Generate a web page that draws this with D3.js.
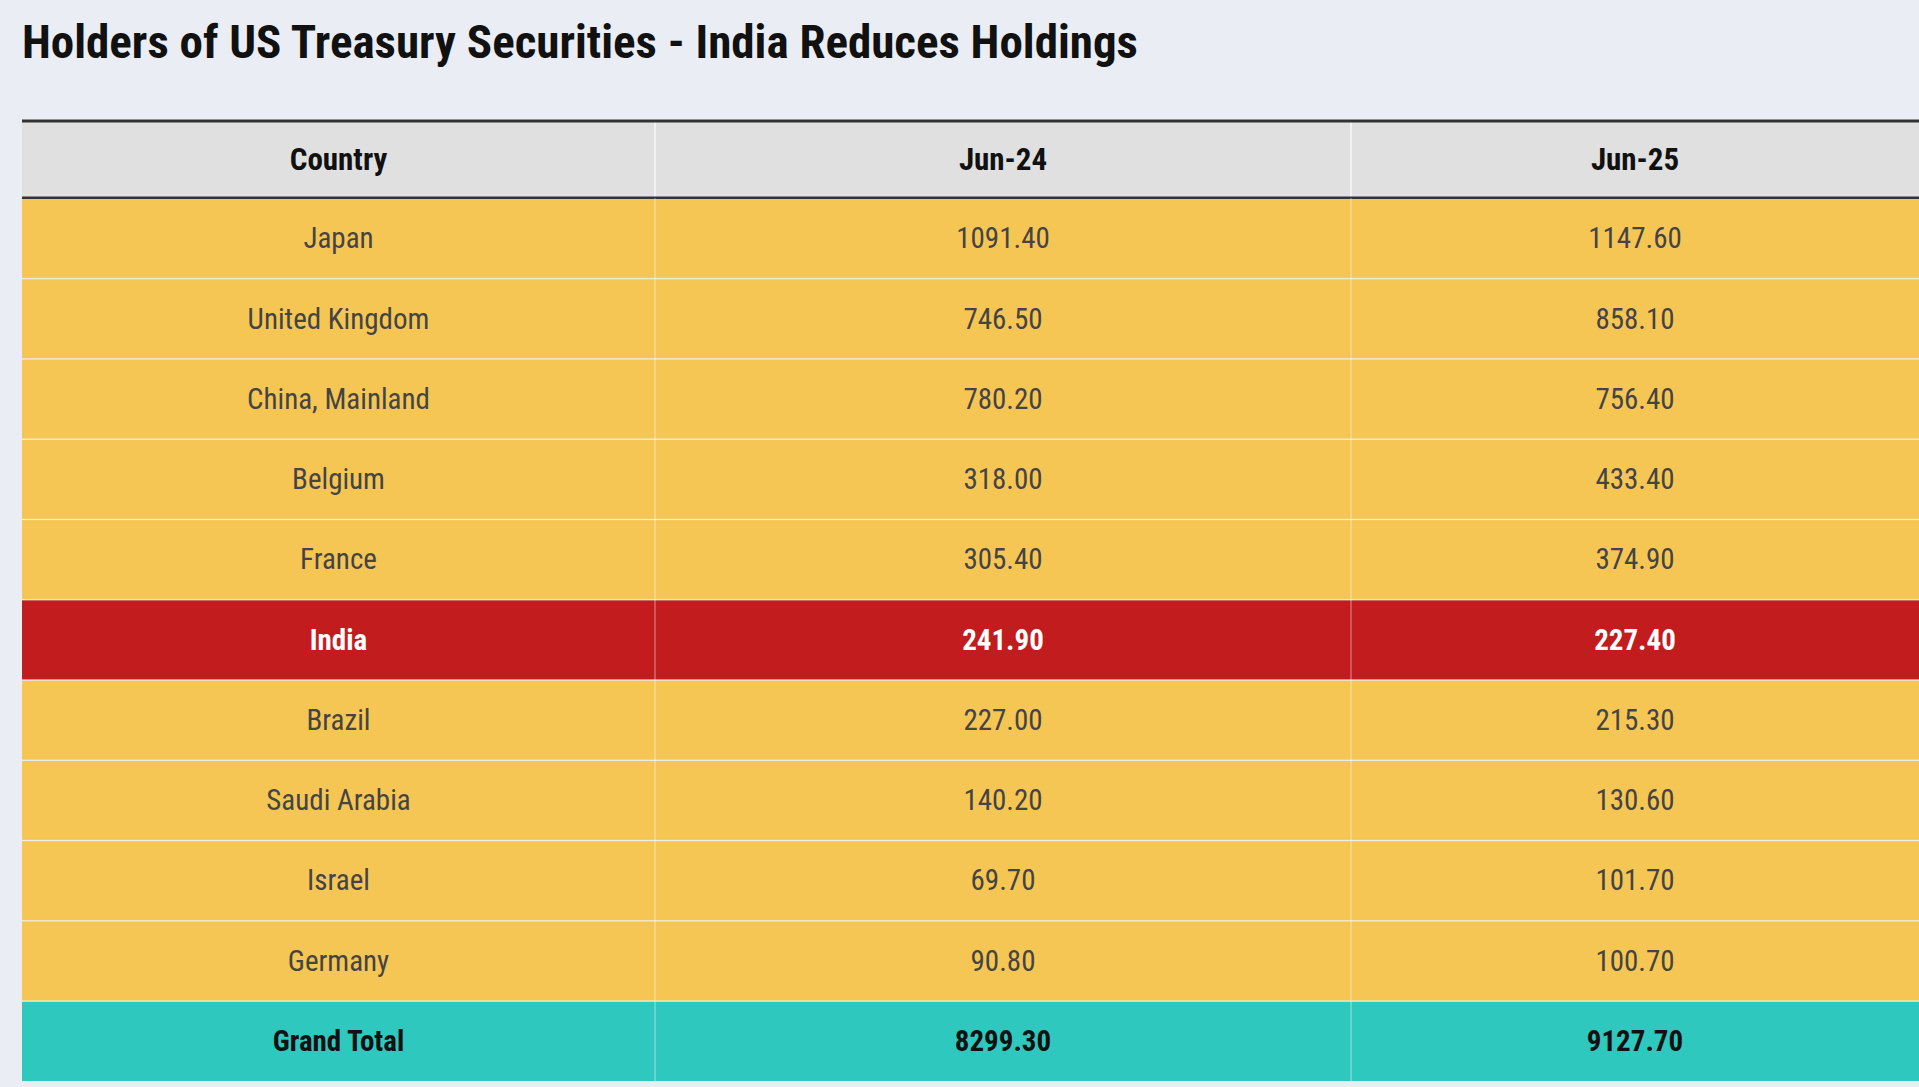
<!DOCTYPE html>
<html><head><meta charset="utf-8">
<script src="https://cdn.jsdelivr.net/npm/d3@7"></script>
<style>body{margin:0;background:#eaeef4;overflow:hidden}</style>
</head><body><div id="chart"></div>
<script>
const columns = ["Country", "Jun-24", "Jun-25"];
const countries = ["Japan", "United Kingdom", "China, Mainland", "Belgium", "France", "India", "Brazil", "Saudi Arabia", "Israel", "Germany", "Grand Total"];
const jun24 = [1091.40, 746.50, 780.20, 318.00, 305.40, 241.90, 227.00, 140.20, 69.70, 90.80, 8299.30];
const jun25 = [1147.60, 858.10, 756.40, 433.40, 374.90, 227.40, 215.30, 130.60, 101.70, 100.70, 9127.70];

const W = 1919, H = 1087;
const font = "'Liberation Sans Narrow', 'Roboto Condensed', Roboto, sans-serif";
const svg = d3.select("#chart").append("svg").attr("width", W).attr("height", H);

svg.append("text").attr("x", 22).attr("y", 58)
  .attr("font-family", font).attr("font-weight", "bold").attr("font-size", 47)
  .attr("fill", "#111").text("Holders of US Treasury Securities - India Reduces Holdings");

const x = d3.scaleOrdinal().domain(columns).range([22, 655, 1351]);
const colEnd = {"Country": 655, "Jun-24": 1351, "Jun-25": 1919};
const headTop = 121, headBot = 198;
const y = d3.scaleBand().domain(countries).range([headBot, 1081]);

// header
svg.append("rect").attr("x", 22).attr("y", headTop).attr("width", W - 22).attr("height", headBot - headTop).attr("fill", "#e0e0e0");
svg.selectAll(".hsep").data(columns.slice(1)).join("line")
  .attr("x1", d => x(d)).attr("x2", d => x(d)).attr("y1", headTop).attr("y2", headBot)
  .attr("stroke", "#f2f2f2").attr("stroke-width", 2);
svg.selectAll(".htext").data(columns).join("text")
  .attr("x", d => (x(d) + colEnd[d]) / 2).attr("y", (headTop + headBot) / 2)
  .attr("dy", "0.35em").attr("text-anchor", "middle")
  .attr("font-family", font).attr("font-weight", "bold").attr("font-size", 31).attr("fill", "#111")
  .text(d => d);
svg.append("line").attr("x1", 22).attr("x2", W).attr("y1", headTop).attr("y2", headTop).attr("stroke", "#333").attr("stroke-width", 3);
svg.append("line").attr("x1", 22).attr("x2", W).attr("y1", headBot).attr("y2", headBot).attr("stroke", "#333").attr("stroke-width", 3);

const fillOf = c => c === "India" ? "#c21c1f" : c === "Grand Total" ? "#2ec8be" : "#f6c655";
const rows = countries.map((c, i) => ({c, vals: [c, jun24[i].toFixed(2), jun25[i].toFixed(2)]}));

const g = svg.append("g");
g.selectAll("rect").data(rows).join("rect")
  .attr("x", 22).attr("y", d => y(d.c) + 1).attr("width", W - 22).attr("height", y.bandwidth() - 1)
  .attr("fill", d => fillOf(d.c));
rows.forEach(r => {
  columns.slice(1).forEach(col => {
    g.append("line").attr("x1", x(col)).attr("x2", x(col)).attr("y1", y(r.c)).attr("y2", y(r.c) + y.bandwidth())
      .attr("stroke", "#ffffff").attr("stroke-opacity", 0.35).attr("stroke-width", 1.5);
  });
  if (r.c !== "Japan") g.append("line").attr("x1", 22).attr("x2", W).attr("y1", y(r.c)).attr("y2", y(r.c))
      .attr("stroke", "#ffffff").attr("stroke-opacity", 0.3);
  const bold = r.c === "India" || r.c === "Grand Total";
  g.selectAll(null).data(columns).join("text")
    .attr("x", d => (x(d) + colEnd[d]) / 2).attr("y", y(r.c) + y.bandwidth() / 2)
    .attr("dy", "0.35em").attr("text-anchor", "middle")
    .attr("font-family", font).attr("font-size", 29)
    .attr("font-weight", bold ? "bold" : "normal")
    .attr("fill", r.c === "India" ? "#fff" : bold ? "#111" : "#444")
    .text((d, i) => r.vals[i]);
});
</script></body></html>
